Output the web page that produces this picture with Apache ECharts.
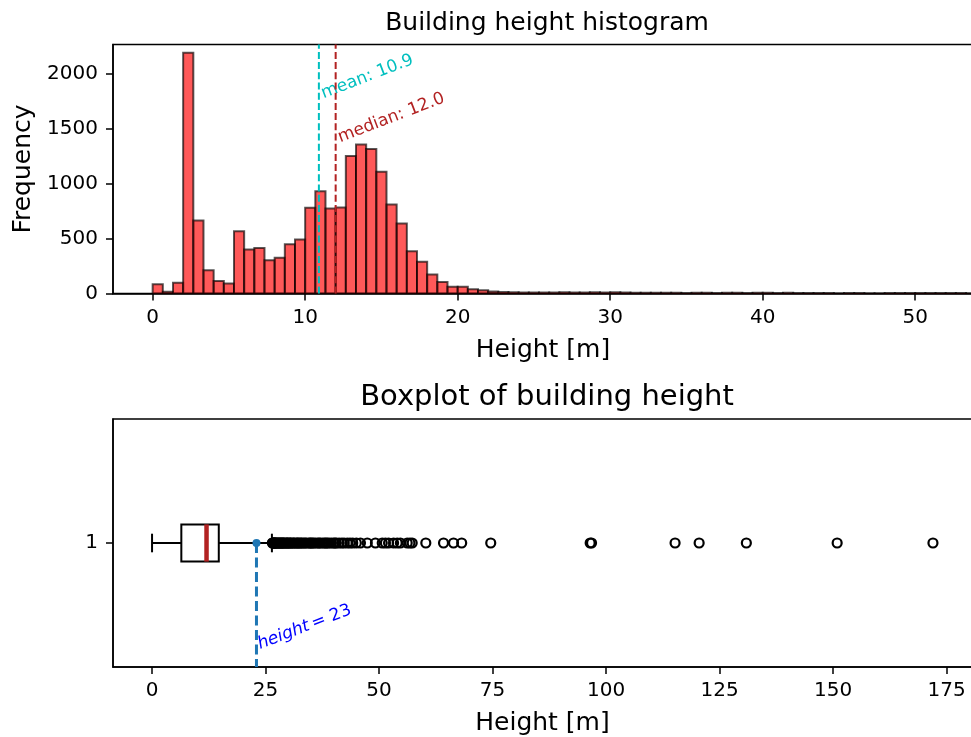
<!DOCTYPE html>
<html>
<head>
<meta charset="utf-8">
<script src="https://cdn.jsdelivr.net/npm/echarts@6/dist/echarts.min.js"></script>
<style>
html,body{margin:0;padding:0;background:#fff;}
#chart{width:971px;height:737px;}
</style>
</head>
<body>
<div id="chart"></div>
<script>
// ---------- data ----------
const binStart = 0;
const binWidth = 2 / 3;
const histCounts = [
  85, 15, 97, 2195, 666, 213, 115, 91, 568, 401,
  416, 304, 325, 450, 492, 781, 933, 775, 784, 1253,
  1360, 1317, 1110, 812, 639, 386, 289, 173, 106, 61,
  61, 39, 30, 18, 14, 11, 9, 8, 8, 9,
  12, 10, 10, 11, 10, 11, 8, 7, 7, 6,
  7, 6, 5, 7, 6, 4, 6, 6, 5, 6,
  6, 5, 6, 5, 5, 4, 5, 3, 4, 4,
  3, 3, 4, 5, 5, 4, 5, 5, 4, 4, 3
];
const meanHeight = 10.9;
const medianHeight = 12.0;
const histXTicks = [0, 10, 20, 30, 40, 50];
const histYTicks = [0, 500, 1000, 1500, 2000];

const boxStats = [0, 6.45, 12.0, 14.7, 26.4]; // min, q1, median, q3, max whisker
const outliers = [
  26.5, 26.6, 26.7, 26.8, 26.9, 27.0, 27.1, 27.2, 27.4, 27.5, 27.7, 27.9, 28.0, 28.2,
  28.4, 28.5, 28.7, 28.9, 29.0, 29.2, 29.5, 29.7, 29.8, 30.0, 30.3, 30.5, 30.6, 31.0,
  31.2, 31.4, 31.8, 32.0, 32.2, 32.5, 32.8, 33.0, 33.4, 33.7, 34.0, 34.5, 34.8, 35.0,
  35.3, 35.6, 36.0, 36.5, 36.8, 37.1, 37.6, 38.0, 38.3, 38.6, 39.0, 39.5, 40.0, 40.3,
  40.6, 41.2, 41.8, 42.3, 43.0, 43.6, 44.2, 45.0, 45.9, 47.4, 49.2, 50.7, 51.4, 52.1,
  53.2, 54.0, 54.7, 56.2, 56.8, 57.3, 60.3, 64.2, 66.4, 68.2, 74.6, 96.5, 96.8,
  115.2, 120.5, 130.9, 150.9, 172.0
];
const markHeight = 23;
const boxXTicks = [0, 25, 50, 75, 100, 125, 150, 175];
const boxYTicks = [1];

// ---------- chart ----------
const FONT = 'DejaVu Sans';
const chart = echarts.init(document.getElementById('chart'), null, {renderer: 'canvas'});

const histData = histCounts.map((c, i) => [binStart + i * binWidth, binStart + (i + 1) * binWidth, c]);
const HIST_YMAX = 2271;

function axisCommon(ticks, margin, extra) {
  return Object.assign({
    type: 'value',
    splitLine: {show: false},
    axisLine: {show: true, onZero: false, lineStyle: {color: '#000', width: 1.5}},
    axisTick: {show: true, inside: false, length: 7, lineStyle: {color: '#000', width: 1.5}, customValues: ticks},
    axisLabel: {show: true, customValues: ticks, fontSize: 20, color: '#000', fontFamily: FONT, margin: margin,
      formatter: function (v) { return String(v); }},
    nameTextStyle: {fontSize: 25, color: '#000', fontFamily: FONT}
  }, extra);
}

const option = {
  animation: false,
  backgroundColor: '#fff',
  title: [
    {text: 'Building height histogram', left: 542, top: 6, textAlign: 'center',
     textStyle: {fontSize: 25, fontWeight: 'normal', color: '#000', fontFamily: FONT}},
    {text: 'Boxplot of building height', left: 542, top: 378, textAlign: 'center',
     textStyle: {fontSize: 29, fontWeight: 'normal', color: '#000', fontFamily: FONT}}
  ],
  grid: [
    {left: 113, top: 44.5, width: 860, height: 249, show: true, borderColor: '#000', borderWidth: 1.5,
     backgroundColor: 'transparent', containLabel: false, outerBoundsMode: 'none'},
    {left: 113, top: 419, width: 859, height: 248, show: true, borderColor: '#000', borderWidth: 1.5,
     backgroundColor: 'transparent', containLabel: false, outerBoundsMode: 'none'}
  ],
  xAxis: [
    axisCommon(histXTicks, 14, {gridIndex: 0, min: -2.6, max: 53.79, name: 'Height [m]',
      nameLocation: 'middle', nameGap: 44}),
    axisCommon(boxXTicks, 14, {gridIndex: 1, min: -8.6, max: 180.6, name: 'Height [m]',
      nameLocation: 'middle', nameGap: 44})
  ],
  yAxis: [
    axisCommon(histYTicks, 15, {gridIndex: 0, min: 0, max: HIST_YMAX, name: 'Frequency',
      nameLocation: 'middle', nameGap: 77}),
    axisCommon(boxYTicks, 15, {gridIndex: 1, min: 0.5, max: 1.5})
  ],
  series: [
    {
      type: 'custom', name: 'hist', xAxisIndex: 0, yAxisIndex: 0, clip: true,
      data: histData,
      renderItem: function (params, api) {
        const p0 = api.coord([api.value(0), 0]);
        const p1 = api.coord([api.value(1), api.value(2)]);
        return {
          type: 'rect',
          shape: {x: p0[0], y: p1[1], width: p1[0] - p0[0], height: p0[1] - p1[1]},
          style: {fill: 'rgba(255,0,0,0.65)', stroke: 'rgba(0,0,0,0.65)', lineWidth: 2}
        };
      }
    },
    {
      type: 'custom', name: 'stats', xAxisIndex: 0, yAxisIndex: 0, clip: false,
      data: [[meanHeight, 'mean', 11.3, 1745], [medianHeight, 'median', 12.4, 1345]],
      renderItem: function (params, api) {
        const v = api.value(0);
        const isMean = params.dataIndex === 0;
        const color = isMean ? '#00BFBF' : '#B22222';
        const pb = api.coord([v, 0]);
        const pt = api.coord([v, HIST_YMAX]);
        const pl = api.coord([api.value(2), api.value(3)]);
        const txt = (isMean ? 'mean: ' : 'median: ') + v.toFixed(1);
        return {
          type: 'group',
          children: [
            {type: 'line', shape: {x1: pb[0], y1: pb[1], x2: pt[0], y2: pt[1]},
             style: {stroke: color, lineWidth: 2, lineDash: [7, 3.2]}},
            {type: 'text', x: pl[0], y: pl[1], rotation: 21 * Math.PI / 180,
             style: {text: txt, fill: color, font: '17px "DejaVu Sans"', align: 'left', verticalAlign: 'bottom'}}
          ]
        };
      }
    },
    {
      type: 'custom', name: 'box', xAxisIndex: 1, yAxisIndex: 1, clip: false,
      data: [[1].concat(boxStats)],
      renderItem: function (params, api) {
        const y = api.value(0);
        const mn = api.value(1), q1 = api.value(2), md = api.value(3), q3 = api.value(4), mx = api.value(5);
        const hw = 0.075, cw = 0.0375;
        const a = api.coord([q1, y + hw]), b = api.coord([q3, y - hw]);
        const w1 = api.coord([mn, y]), w2 = api.coord([mx, y]);
        const c1t = api.coord([mn, y + cw]), c1b = api.coord([mn, y - cw]);
        const c2t = api.coord([mx, y + cw]), c2b = api.coord([mx, y - cw]);
        const mt = api.coord([md, y + hw]), mb = api.coord([md, y - hw]);
        const st = {stroke: '#000', lineWidth: 2, fill: null};
        return {
          type: 'group',
          children: [
            {type: 'line', shape: {x1: w1[0], y1: w1[1], x2: a[0], y2: w1[1]}, style: st},
            {type: 'line', shape: {x1: b[0], y1: w2[1], x2: w2[0], y2: w2[1]}, style: st},
            {type: 'line', shape: {x1: c1t[0], y1: c1t[1], x2: c1b[0], y2: c1b[1]}, style: st},
            {type: 'line', shape: {x1: c2t[0], y1: c2t[1], x2: c2b[0], y2: c2b[1]}, style: st},
            {type: 'rect', shape: {x: a[0], y: a[1], width: b[0] - a[0], height: b[1] - a[1]},
             style: {stroke: '#000', lineWidth: 2, fill: 'rgba(0,0,0,0)'}},
            {type: 'line', shape: {x1: mt[0], y1: mt[1], x2: mb[0], y2: mb[1]},
             style: {stroke: '#B22222', lineWidth: 4.5}}
          ]
        };
      }
    },
    {
      type: 'scatter', name: 'outliers', xAxisIndex: 1, yAxisIndex: 1,
      data: outliers.map(v => [v, 1]),
      symbol: 'circle', symbolSize: 9,
      itemStyle: {color: 'rgba(0,0,0,0)', borderColor: '#000', borderWidth: 2.2, opacity: 1},
      emphasis: {disabled: true}
    },
    {
      type: 'custom', name: 'mark', xAxisIndex: 1, yAxisIndex: 1, clip: false,
      data: [[markHeight, 1, 24.1, 0.557]],
      renderItem: function (params, api) {
        const p = api.coord([api.value(0), api.value(1)]);
        const pb = api.coord([api.value(0), 0.5]);
        const pl = api.coord([api.value(2), api.value(3)]);
        return {
          type: 'group',
          children: [
            {type: 'line', shape: {x1: p[0], y1: p[1], x2: pb[0], y2: pb[1]},
             style: {stroke: '#1f77b4', lineWidth: 3, lineDash: [10, 4.5]}},
            {type: 'circle', shape: {cx: p[0], cy: p[1], r: 4}, style: {fill: '#1f77b4'}},
            {type: 'text', x: pl[0], y: pl[1], rotation: 21 * Math.PI / 180,
             style: {
               text: '{i|height} {n|= ' + api.value(0) + '}',
               align: 'left', verticalAlign: 'bottom',
               rich: {
                 i: {fill: '#0000ff', fontSize: 17, fontStyle: 'italic', fontFamily: FONT},
                 n: {fill: '#0000ff', fontSize: 17, fontFamily: FONT}
               }
             }}
          ]
        };
      }
    }
  ]
};
chart.setOption(option);
</script>
</body>
</html>
